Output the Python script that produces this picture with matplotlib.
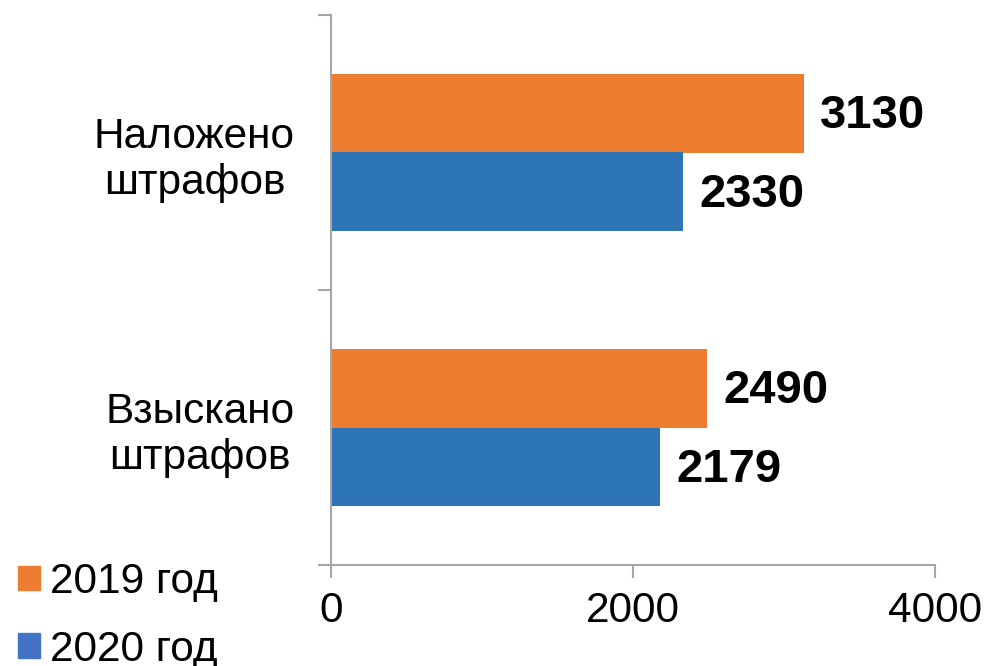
import matplotlib.pyplot as plt
from matplotlib.patches import Patch

plt.rcParams['font.family'] = ['Liberation Sans', 'DejaVu Sans']

# данные
categories = ['Взыскано\nштрафов', 'Наложено\nштрафов']
values_2019 = [2490, 3130]
values_2020 = [2179, 2330]
series_names = ['2019 год', '2020 год']

orange = '#ED7D31'
blue = '#2E75B6'
legend_blue = '#4472C4'
grey = '#A6A6A6'

fig = plt.figure(figsize=(9.87, 6.66), dpi=100)
ax = fig.add_axes([331 / 987, 101 / 666, 604 / 987, 550 / 666])

pos = list(range(len(categories)))
h = 0.287
ax.barh([p + h / 2 for p in pos], values_2019, height=h, color=orange)
ax.barh([p - h / 2 for p in pos], values_2020, height=h, color=blue)

# подписи значений
for p, v in zip(pos, values_2019):
    ax.annotate(str(v), (v, p + h / 2), xytext=(12, -2), textcoords='offset points',
                va='center', ha='left', fontsize=34, fontweight='bold')
for p, v in zip(pos, values_2020):
    ax.annotate(str(v), (v, p - h / 2), xytext=(12, -2), textcoords='offset points',
                va='center', ha='left', fontsize=34, fontweight='bold')

ax.set_xlim(0, 4000)
ax.set_ylim(-0.5, 1.5)
ax.set_xticks([0, 2000, 4000])
ax.tick_params(axis='x', labelsize=30.5, length=9, width=1.5, color=grey, pad=10)

ax.set_yticks(pos)
ax.set_yticklabels(categories, multialignment='center', fontsize=30.5)
ax.set_yticks([-0.5, 0.5, 1.5], minor=True)
ax.tick_params(axis='y', which='major', length=0, pad=26)
ax.tick_params(axis='y', which='minor', length=9.5, width=1.5, color=grey)

for s in ['top', 'right']:
    ax.spines[s].set_visible(False)
for s in ['left', 'bottom']:
    ax.spines[s].set_color(grey)
    ax.spines[s].set_linewidth(1.5)

handles = [Patch(color=orange), Patch(color=legend_blue)]
fig.legend(handles, series_names, loc='upper left', bbox_to_anchor=(18 / 987, 1 - 562 / 666),
           frameon=False, fontsize=30.5, handlelength=0.53, handleheight=0.53,
           handletextpad=0.22, labelspacing=0.66, borderpad=0, borderaxespad=0)

fig.savefig('out.png', dpi=100)
